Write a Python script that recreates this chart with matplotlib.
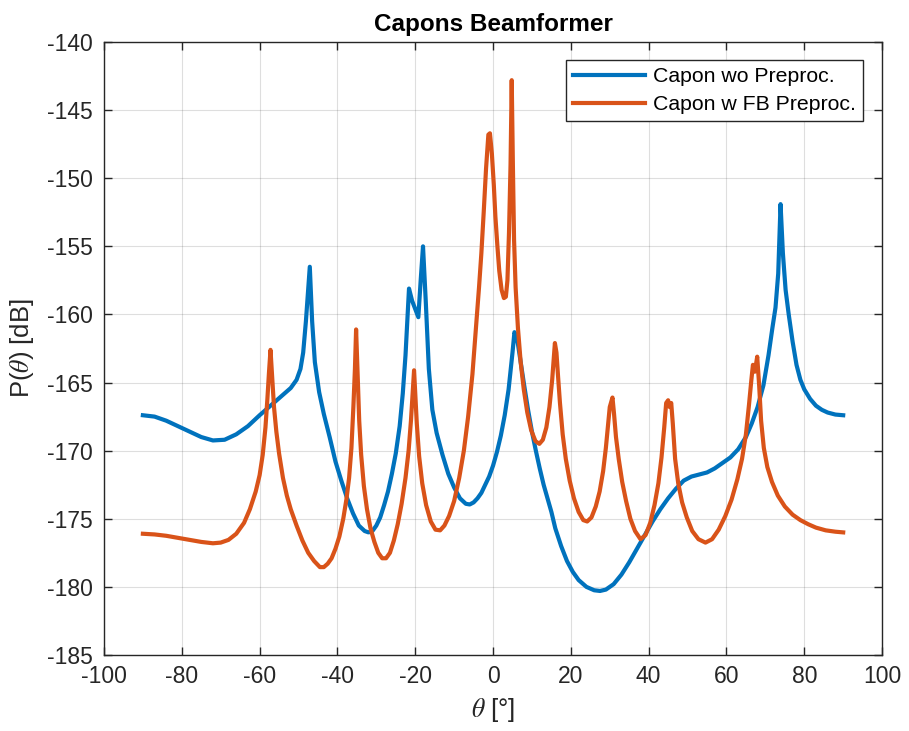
import numpy as np
import matplotlib
matplotlib.use('Agg')
import matplotlib.pyplot as plt

plt.rcParams['font.family'] = ['Liberation Sans', 'DejaVu Sans']
plt.rcParams['mathtext.fontset'] = 'stix'
plt.rcParams['axes.unicode_minus'] = False

# Capon wo Preproc. (theta in deg, power in dB)
theta_wo = [-90, -87, -84, -81, -78, -75, -72, -69, -66, -63, -60, -58, -56, -54, -52,
            -50.5, -49.5, -48.8, -48.1, -47.1, -46.5, -45.8, -44.7, -43.5, -42, -40.5,
            -39, -37.5, -36, -34.5, -33, -32, -31, -30, -29, -28, -27, -26, -25, -24,
            -23.2, -22.5, -21.6, -20.8, -19.2, -18.6, -18.0, -17.3, -16.5, -15.6, -14.5,
            -13, -11.5, -10, -8.5, -7, -6, -5, -4, -3, -2, -1, 0, 1, 2, 3, 4, 5, 5.5,
            6.2, 7, 8, 9, 10, 11, 12, 13, 14, 15, 16, 17.5, 19, 20.5, 22, 24, 26, 27.5,
            29, 31, 33, 35, 37, 39, 41, 43, 45, 47, 49, 51, 53, 55, 57, 59, 61, 63, 65,
            66.5, 68, 69.5, 70.8, 71.8, 72.6, 73.3, 73.9, 74.5, 75.2, 76, 77, 78, 79, 80,
            81.5, 83, 84.5, 86, 88, 90]
p_wo = [-167.4, -167.5, -167.8, -168.2, -168.6, -169.0, -169.25, -169.2, -168.8, -168.2,
        -167.4, -166.9, -166.4, -165.9, -165.4, -164.8, -164.0, -162.8, -160.5, -156.5,
        -160.5, -163.5, -165.7, -167.3, -169.0, -170.8, -172.2, -173.5, -174.6, -175.5,
        -175.9, -176.0, -175.9, -175.5, -174.9, -174.0, -173.0, -171.7, -170.2, -168.2,
        -165.8, -163.0, -158.1, -159.0, -160.2, -157.5, -155.0, -159.0, -164.0, -167.0,
        -168.7, -170.3, -171.7, -172.7, -173.5, -173.9, -173.95, -173.8, -173.5, -173.1,
        -172.5, -171.9, -171.1, -170.1, -168.9, -167.4, -165.5, -162.8, -161.3, -161.8,
        -163.3, -165.2, -167.0, -168.6, -170.0, -171.3, -172.5, -173.5, -174.5, -175.7,
        -177.0, -178.1, -178.9, -179.5, -180.0, -180.25, -180.3, -180.2, -179.8, -179.1,
        -178.2, -177.2, -176.2, -175.2, -174.3, -173.5, -172.8, -172.2, -171.9, -171.75,
        -171.6, -171.3, -170.9, -170.5, -169.9, -169.0, -168.0, -166.8, -165.2, -163.0,
        -161.0, -159.5, -157.0, -151.9, -155.5, -158.2, -160.0, -162.0, -163.7, -164.8,
        -165.5, -166.2, -166.7, -167.0, -167.2, -167.35, -167.4]

# Capon w FB Preproc.
theta_fb = [-90, -87, -84, -81, -78, -75, -72, -70, -68, -66, -64, -62.5, -61, -60, -59.2,
            -58.5, -58, -57.6, -57.2, -56.8, -56.3, -55.7, -55, -54, -53, -52, -50.5, -49,
            -47.5, -46, -44.5, -43.5, -42.5, -41.5, -40.5, -39.5, -38.5, -37.7, -37,
            -36.4, -35.9, -35.5, -35.2, -34.8, -34.4, -33.9, -33.2, -32.4, -31.5, -30.5,
            -29.5, -28.5, -27.5, -26.5, -25.5, -24.5, -23.5, -22.5, -21.7, -21.1, -20.6,
            -20.3, -20.0, -19.6, -19.0, -18.2, -17.2, -16, -14.8, -13.6, -12.5, -11.3,
            -10, -8.7, -7.5, -6.4, -5.3, -4.4, -3.6, -3.0, -2.4, -1.8, -1.2, -0.8, -0.3,
            0.2, 0.6, 1.1, 1.6, 2.2, 2.8, 3.3, 3.7, 4.1, 4.5, 4.8, 5.1, 5.4, 5.8, 6.4,
            7.1, 7.9, 8.8, 9.8, 10.9, 11.9, 12.8, 13.7, 14.5, 15.2, 15.6, 15.9, 16.3,
            16.7, 17.2, 17.9, 18.7, 19.7, 20.8, 22, 23.2, 24.2, 25.3, 26.4, 27.4, 28.3,
            29.0, 29.6, 30.0, 30.3, 30.7, 31.1, 31.6, 32.3, 33.2, 34.2, 35.3, 36.5, 37.9,
            39.2, 40.4, 41.5, 42.5, 43.3, 44.0, 44.5, 45.0, 45.4, 45.8, 46.2, 46.8, 47.6,
            48.6, 49.8, 51.2, 52.8, 54.6, 56.3, 58, 59.7, 61.3, 62.8, 64.0, 65.0, 65.8,
            66.4, 66.8, 67.3, 67.9, 68.4, 68.9, 69.6, 70.5, 71.7, 73.2, 75, 77, 79, 81,
            83, 85.5, 88, 90]
p_fb = [-176.1, -176.15, -176.25, -176.4, -176.55, -176.7, -176.8, -176.75, -176.55,
        -176.1, -175.3, -174.3, -173.0, -171.8, -170.3, -168.3, -166.2, -164.3, -162.6,
        -164.5, -166.8, -168.6, -170.2, -172.0, -173.3, -174.3, -175.5, -176.6, -177.5,
        -178.1, -178.55, -178.55, -178.3, -177.9, -177.2, -176.3, -175.0, -173.6, -172.0,
        -169.8, -166.8, -164.0, -161.1, -164.5, -167.8, -170.3, -172.6, -174.3, -175.7,
        -176.7, -177.5, -177.9, -177.9, -177.5, -176.6, -175.4, -173.9, -172.0, -170.0,
        -167.8, -165.5, -164.1, -165.8, -168.0, -170.4, -172.4, -174.0, -175.2, -175.8,
        -175.85, -175.5, -174.8, -173.7, -172.0, -170.0, -167.5, -164.4, -161.0, -158.0,
        -155.5, -152.5, -149.3, -146.8, -146.7, -148.2, -150.5, -152.8, -154.9, -156.8,
        -158.2, -158.8, -158.7, -157.5, -154.0, -149.0, -142.8, -149.0, -154.5, -158.0,
        -161.0, -163.5, -165.5, -167.2, -168.5, -169.3, -169.5, -169.2, -168.3, -166.8,
        -164.8, -163.3, -162.1, -162.8, -164.5, -166.5, -168.8, -170.6, -172.2, -173.5,
        -174.5, -175.1, -175.2, -174.9, -174.1, -173.0, -171.5, -169.8, -168.0, -166.8,
        -166.5, -166.1, -167.3, -169.0, -170.6, -172.3, -173.7, -175.0, -175.9, -176.5,
        -176.2, -175.3, -174.0, -172.4, -170.5, -168.3, -166.5, -166.3, -166.8, -166.5,
        -168.0, -170.6, -172.4, -173.8, -174.9, -175.9, -176.5, -176.75, -176.5, -175.8,
        -174.8, -173.6, -172.1, -170.6, -168.8, -166.6, -164.8, -163.7, -164.2, -163.1,
        -165.2, -167.8, -169.8, -171.2, -172.3, -173.3, -174.1, -174.7, -175.1, -175.4,
        -175.65, -175.85, -175.95, -176.0]

labels = ['Capon wo Preproc.', 'Capon w FB Preproc.']
colors = ['#0072BD', '#D95319']
xticks = np.arange(-100, 101, 20)
yticks = np.arange(-185, -139, 5)

fig = plt.figure(figsize=(9.09, 7.31), dpi=100)
ax = fig.add_axes([0.1144, 0.104, 0.856, 0.8385])

ax.plot(theta_wo, p_wo, color=colors[0], lw=3, label=labels[0], solid_joinstyle='round')
ax.plot(theta_fb, p_fb, color=colors[1], lw=3, label=labels[1], solid_joinstyle='round')

ax.set_xlim(-100, 100)
ax.set_ylim(-185, -140)
ax.set_xticks(xticks)
ax.set_yticks(yticks)
ax.grid(True, color='#262626', alpha=0.15, lw=0.8)
ax.set_axisbelow(True)

for s in ax.spines.values():
    s.set_color('#262626')
    s.set_linewidth(1.0)
ax.tick_params(direction='in', length=6, width=1.0, colors='#262626',
               labelsize=16.5, top=True, right=True)
ax.tick_params(axis='y', pad=8)
ax.tick_params(axis='x', pad=7)

ax.set_title('Capons Beamformer', fontsize=17.5, fontweight='bold', pad=8)
ax.set_xlabel(r'$\theta$ [°]', fontsize=18.5, color='#262626', labelpad=6)
ax.set_ylabel(r'P($\theta$) [dB]', fontsize=18.5, color='#262626', labelpad=8)

leg = ax.legend(loc='upper right', bbox_to_anchor=(0.9756, 0.9706), borderaxespad=0,
                fontsize=15.3, frameon=True, fancybox=False, edgecolor='#262626',
                framealpha=1, handlelength=3.4, handletextpad=0.35, borderpad=0.35,
                labelspacing=0.4)
leg.get_frame().set_linewidth(1.0)

plt.savefig('out.png', dpi=100)
